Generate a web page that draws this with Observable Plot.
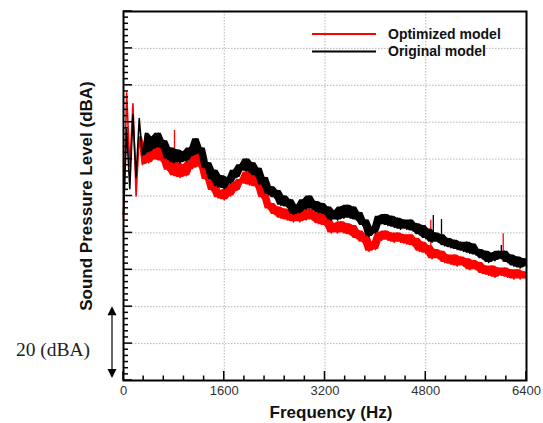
<!DOCTYPE html>
<html><head><meta charset="utf-8">
<script src="https://cdn.jsdelivr.net/npm/d3@7"></script>
<script src="https://cdn.jsdelivr.net/npm/@observablehq/plot@0.6"></script>
<style>
html,body{margin:0;padding:0;background:#fff;}
</style>
</head><body><div id="chart"></div>
<script>
// Frequency grid (Hz)
const freq = [0,50,100,150,200,250,300,350,400,450,500,550,600,650,700,750,800,850,900,950,
1000,1050,1100,1150,1200,1250,1300,1350,1400,1450,1500,1550,1600,1650,1700,1750,1800,1850,1900,1950,
2000,2050,2100,2150,2200,2250,2300,2350,2400,2450,2500,2550,2600,2650,2700,2750,2800,2850,2900,2950,
3000,3050,3100,3150,3200,3250,3300,3350,3400,3450,3500,3550,3600,3650,3700,3750,3800,3850,3900,3950,
4000,4050,4100,4150,4200,4250,4300,4350,4400,4450,4500,4550,4600,4650,4700,4750,4800,4850,4900,4950,
5000,5050,5100,5150,5200,5250,5300,5350,5400,5450,5500,5550,5600,5650,5700,5750,5800,5850,5900,5950,
6000,6050,6100,6150,6200,6250,6300,6350,6400];

// Original model SPL (dBA, relative axis units)
const original = [45,68,52,72,55,71,61,67,62,66,
63,67,63,65,60,63,59,62.5,59,62,
59.5,63,61,65.5,61.5,63,57.5,59,54.5,57,
52.5,55.5,52,55,53.5,57,55,58.5,57,60,
56.5,59,55.5,57.5,53,55,50.5,52.5,49.5,51.5,
47.5,50,47,49,45,47.5,45.5,49,46.5,50,
46.5,48.5,45.5,48,45,47,43.5,46,43.5,47,
44,47.5,44,47,43.5,45.5,42,43.5,39,41.5,
40,44.5,42.5,45,42,44.5,41.5,44,41,43.5,
41,43.5,40.5,42.5,39.5,42,38.5,41,37.5,40,
37.5,39.5,36.5,38.5,36,38,35.5,37.5,35,37.5,
34.5,37,34,35.5,33,35,32,34.5,32.5,35,
33,35,32,34,31,33.5,30.5,33,31];

// Optimized model SPL
const optimized = [44,78,58,75,50,66,58.5,62.5,59,63,
60,63.5,59.5,61.5,57,60,55.5,59,55,58.5,
55.5,59.5,57.5,61.5,58,59.5,54.5,55.5,51.5,53.5,
49.5,51.5,49,52,50,53.5,51.5,54.5,53.5,56.5,
53,56,52.5,54.5,49.5,51.5,46.5,48,45,47,
44,46.5,43.5,46,43,45.5,43,45.5,43.5,46.5,
43.5,45.5,42.5,45,42,44,40,42.5,40,43,
40,42.5,39.5,42,38.5,40.5,37.5,39.5,35,37.5,
35.5,40,38,40.5,38,40,37.5,40,37.5,39.5,
37,39.5,36.5,38.5,35,37.5,34.5,36.5,33,35.5,
33,35,32,34,31.5,34,31,33.5,31,33,
30,32.5,30,32,29,31,28.5,31,28,30.5,
28.5,30.5,28,30,27.5,30,27.5,29.5,27.5];

// Narrow tonal spikes
const origSpikeFreq = [4920, 5050, 6000];
const origSpikeTop  = [44.7, 43.6, 36.6];
const origSpikeBase = [39, 38.5, 33];
const optSpikeFreq  = [810, 4880, 6030];
const optSpikeTop   = [67.8, 43.4, 39.8];
const optSpikeBase  = [58, 36, 32];

const xTicks = [0, 1600, 3200, 4800, 6400];
const xGrid = [1600, 3200, 4800];
const yGrid = [10, 20, 30, 40, 50, 60, 70, 80, 90];
const legendNames = ["Optimized model", "Original model"];
const legendColors = ["#ff0000", "#000000"];

// band rows: local envelope of neighbouring samples gives the dense noisy band;
// where neighbours jump a lot (isolated spikes) the band collapses to the sample itself
function rows(vals) {
  return freq.map((f, i) => {
    const nb = [vals[i - 1], vals[i], vals[i + 1]].filter(d => d !== undefined);
    const lo = d3.min(nb), hi = d3.max(nb);
    const spiky = hi - lo > 8;
    return {f, v: vals[i], lo: spiky ? vals[i] : lo, hi: spiky ? vals[i] : hi};
  });
}
const origRows = rows(original);
const optRows = rows(optimized);
const origSpikes = origSpikeFreq.map((f, i) => ({f, t: origSpikeTop[i], b: origSpikeBase[i]}));
const optSpikes = optSpikeFreq.map((f, i) => ({f, t: optSpikeTop[i], b: optSpikeBase[i]}));

const FONT = "'Liberation Sans', Arial, sans-serif";

const chart = Plot.plot({
  width: 543, height: 423,
  marginLeft: 123, marginRight: 17, marginTop: 11, marginBottom: 43,
  style: {fontFamily: FONT, background: "#fff"},
  x: {domain: [0, 6400], axis: null},
  y: {domain: [0, 100], axis: null},
  marks: [
    Plot.gridX(xGrid, {stroke: "#999", strokeOpacity: 0.7, strokeDasharray: "1.5,1.5"}),
    Plot.gridY(yGrid, {stroke: "#999", strokeOpacity: 0.7, strokeDasharray: "1.5,1.5"}),
    Plot.areaY(optRows, {x: "f", y1: "lo", y2: "hi", fill: legendColors[0]}),
    Plot.line(optRows, {x: "f", y: "v", stroke: legendColors[0], strokeWidth: 1.6}),
    Plot.ruleX(optSpikes, {x: "f", y1: "b", y2: "t", stroke: legendColors[0], strokeWidth: 1.3}),
    Plot.areaY(origRows, {x: "f", y1: "lo", y2: "hi", fill: legendColors[1]}),
    Plot.line(origRows, {x: "f", y: "v", stroke: legendColors[1], strokeWidth: 1.6}),
    Plot.ruleX(origSpikes, {x: "f", y1: "b", y2: "t", stroke: legendColors[1], strokeWidth: 1.3}),
    Plot.axisX(xTicks, {tickSize: 0, tickPadding: 5, fontSize: 13, color: "#333", label: null, tickFormat: d => String(d)}),
    Plot.frame({stroke: "#000", strokeWidth: 2})
  ]
});
document.getElementById("chart").appendChild(chart);

const svg = d3.select(chart);
const sx = chart.scale("x"), sy = chart.scale("y");
const x0 = sx.apply(0), y0 = sy.apply(0);

// inward ticks
const tg = svg.append("g").attr("stroke", "#000").attr("stroke-width", 1.5);
d3.range(0, 6401, 320).forEach(v => {
  const major = xTicks.includes(v);
  const px = sx.apply(v);
  tg.append("line").attr("x1", px).attr("x2", px).attr("y1", y0).attr("y2", y0 - (major ? 9 : 4.5));
});
d3.range(0, 61).forEach(i => {
  const v = i * 10 / 6;
  const major = i % 6 === 0;
  const py = sy.apply(v);
  tg.append("line").attr("x1", x0).attr("x2", x0 + (major ? 9 : 5)).attr("y1", py).attr("y2", py);
});

// legend
legendNames.forEach((name, i) => {
  const ly = 34 + i * 17.5;
  svg.append("line").attr("x1", 312).attr("x2", 376).attr("y1", ly).attr("y2", ly)
    .attr("stroke", legendColors[i]).attr("stroke-width", 2);
  svg.append("text").attr("x", 388).attr("y", ly).attr("dy", "0.35em").attr("text-anchor", "start")
    .attr("font-family", FONT).attr("font-weight", "bold").attr("font-size", 14)
    .attr("fill", "#111").text(name);
});

// axis titles
svg.append("text").attr("x", 331).attr("y", 412).attr("dy", "0.35em")
  .attr("text-anchor", "middle").attr("font-family", FONT).attr("font-weight", "bold")
  .attr("font-size", 17).attr("fill", "#111").text("Frequency (Hz)");
svg.append("text").attr("transform", "translate(86,196) rotate(-90)").attr("dy", "0.35em")
  .attr("text-anchor", "middle").attr("font-family", FONT).attr("font-weight", "bold")
  .attr("font-size", 17).attr("fill", "#111").text("Sound Pressure Level (dBA)");

// 20 dBA scale annotation
const ax = 112, aTop = sy.apply(20), aBot = y0 - 2;
svg.append("line").attr("x1", ax).attr("x2", ax).attr("y1", aTop + 7).attr("y2", aBot - 7)
  .attr("stroke", "#000").attr("stroke-width", 1.2);
svg.append("path").attr("d", `M${ax},${aTop}L${ax - 4.5},${aTop + 9}L${ax + 4.5},${aTop + 9}Z`).attr("fill", "#000");
svg.append("path").attr("d", `M${ax},${aBot}L${ax - 4.5},${aBot - 9}L${ax + 4.5},${aBot - 9}Z`).attr("fill", "#000");
svg.append("text").attr("x", 53).attr("y", (aTop + aBot) / 2 + 7).attr("dy", "0.35em")
  .attr("text-anchor", "middle").attr("font-family", "'Liberation Serif', 'Times New Roman', serif")
  .attr("font-size", 19.5).attr("fill", "#222").text("20 (dBA)");
</script>
</body></html>
